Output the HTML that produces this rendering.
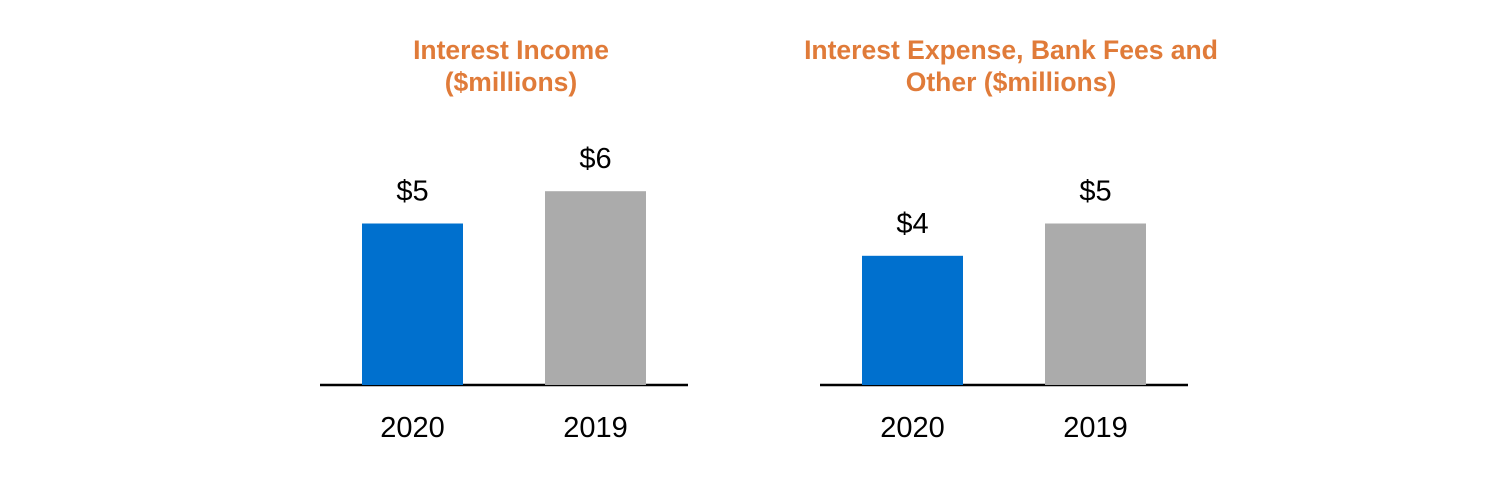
<!DOCTYPE html>
<html><head><meta charset="utf-8"><style>
html,body{margin:0;padding:0;background:#fff;width:1512px;height:486px;overflow:hidden}
svg{display:block}
text{font-family:"Liberation Sans",Arial,sans-serif}
</style></head><body>
<svg id="c" width="1512" height="486">
<text x="511" y="59" text-anchor="middle" font-size="26.5" font-weight="bold" fill="#E07B39">Interest Income</text>
<text x="511" y="91" text-anchor="middle" font-size="26.5" font-weight="bold" fill="#E07B39">($millions)</text>
<text x="1011" y="59" text-anchor="middle" font-size="26.5" font-weight="bold" fill="#E07B39">Interest Expense, Bank Fees and</text>
<text x="1011" y="91" text-anchor="middle" font-size="26.5" font-weight="bold" fill="#E07B39">Other ($millions)</text>
</svg>
<script>
const categories = ["2020","2019"];
const incomeValues = [5,6];
const expenseValues = [4,5];
const valueLabels = ["$","$"];
const svg=document.getElementById('c');
const NS='http://www.w3.org/2000/svg';
const base=385, unit=32.3;
function yScale(v){return base-v*unit;}
const colors=["#0070CE","#ABABAB"];
function draw(x0,vals,prefix){
  const ax=document.createElementNS(NS,'line');
  ax.setAttribute('x1',x0);ax.setAttribute('x2',x0+368);ax.setAttribute('y1',base);ax.setAttribute('y2',base);
  ax.setAttribute('stroke','#000');ax.setAttribute('stroke-width','2.5');
  
  
  svg.appendChild(ax);
  vals.forEach((v,i)=>{
    const bx=x0+42+i*183, cx=bx+50.5;
    const r=document.createElementNS(NS,'rect');
    r.setAttribute('x',bx);r.setAttribute('width',101);
    r.setAttribute('y',yScale(v));r.setAttribute('height',base-yScale(v));
    r.setAttribute('fill',colors[i]);
    
    
    svg.appendChild(r);
    const t=document.createElementNS(NS,'text');
    t.setAttribute('x',cx);t.setAttribute('y',yScale(v)-23);
    t.setAttribute('text-anchor','middle');t.setAttribute('font-size','29');
    t.textContent=valueLabels[i]+v;
    
    
    svg.appendChild(t);
    const c=document.createElementNS(NS,'text');
    c.setAttribute('x',cx);c.setAttribute('y',437);
    c.setAttribute('text-anchor','middle');c.setAttribute('font-size','29');
    c.textContent=categories[i];
    
    
    svg.appendChild(c);
  });
}
draw(320,incomeValues,'income');
draw(820,expenseValues,'expense');
</script>
</body></html>
